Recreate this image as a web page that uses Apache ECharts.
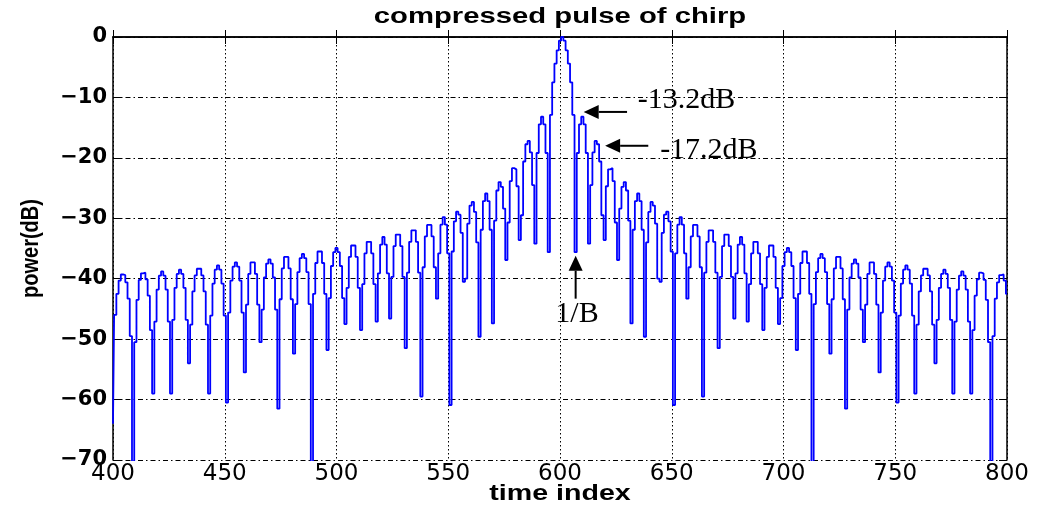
<!DOCTYPE html>
<html>
<head>
<meta charset="utf-8">
<title>compressed pulse of chirp</title>
<script src="https://cdn.jsdelivr.net/npm/echarts@6/dist/echarts.min.js"></script>
<style>
  html, body { margin: 0; padding: 0; background: #ffffff; }
  #chart { width: 1037px; height: 506px; }
</style>
</head>
<body>
<div id="chart"></div>
<script>
// Sample index of the first value in `power`
const firstIndex = 400;

// Matched-filter output power in dB, one value per time index (400 ... 800)
const power = [
  -64, -46, -42.5, -40.3, -39.3, -39.4, -40.6, -43.3, -49.5, -80,
  -50.5, -43.5, -40.2, -39.1, -39.0, -40.1, -42.8, -48.5, -59, -47.1,
  -41.8, -39.5, -38.8, -39.5, -41.8, -47.1, -59, -46.8, -41.5, -39.2,
  -38.5, -39.2, -41.5, -46.8, -54, -47.6, -42.1, -39.45, -38.35, -38.35,
  -39.45, -42.1, -47.6, -59, -46.1, -40.8, -38.5, -37.8, -38.5, -40.8,
  -46.1, -60.5, -45.6, -40.3, -38.0, -37.3, -38.0, -40.3, -45.6, -55.5,
  -44.3, -39.2, -37.3, -37.3, -39.2, -44.3, -50.5, -45.1, -39.8, -37.5,
  -36.8, -37.5, -39.8, -45.1, -61.5, -43.4, -38.3, -36.4, -36.4, -38.3,
  -43.4, -52.4, -44.2, -38.9, -36.6, -35.9, -36.6, -38.9, -44.2, -80,
  -42.5, -37.4, -35.5, -35.5, -37.4, -42.5, -51.8, -43.2, -37.9, -35.6,
  -34.9, -35.6, -37.9, -43.2, -47.5, -41.5, -36.4, -34.5, -34.5, -36.4,
  -41.5, -48.5, -40.9, -35.8, -33.9, -33.9, -35.8, -40.9, -47.1, -39.1,
  -34.35, -33.1, -34.35, -39.1, -46.6, -39.7, -34.6, -32.7, -32.7, -34.6,
  -39.7, -51.5, -39.0, -33.9, -32.0, -32.0, -33.9, -39.0, -59.5, -38.1,
  -33.0, -31.1, -31.1, -33.0, -38.1, -43.3, -35.8, -31.05, -29.8, -31.05,
  -35.8, -60.9, -35.5, -30.5, -28.9, -29.4, -32.4, -40.5, -40.0, -30.9,
  -27.9, -27.3, -28.95, -34.0, -49.6, -31.9, -27.15, -25.9, -27.15, -31.9,
  -47.4, -30.4, -25.4, -24.0, -24.8, -28.4, -36.9, -30.7, -23.85, -21.7,
  -21.9, -24.7, -33.6, -29.5, -20.6, -17.75, -17.2, -19.1, -24.5, -34.2,
  -19.2, -14.45, -13.2, -14.45, -19.2, -35.6, -12.9, -7.5, -4.4, -2.2,
  -0.6, 0, -0.6, -2.2, -4.4, -7.5, -12.9, -35.6, -19.2, -14.45,
  -13.2, -14.45, -19.2, -34.2, -24.5, -19.1, -17.2, -17.75, -20.6, -29.5,
  -33.6, -24.7, -21.9, -21.7, -23.85, -30.7, -36.9, -28.4, -24.8, -24.0,
  -25.4, -30.4, -47.4, -31.9, -27.15, -25.9, -27.15, -31.9, -49.6, -34.0,
  -28.95, -27.3, -27.9, -30.9, -40.0, -40.5, -32.4, -29.4, -28.9, -30.5,
  -35.5, -60.9, -35.8, -31.05, -29.8, -31.05, -35.8, -43.3, -38.1, -33.0,
  -31.1, -31.1, -33.0, -38.1, -59.5, -39.0, -33.9, -32.0, -32.0, -33.9,
  -39.0, -51.5, -39.7, -34.6, -32.7, -32.7, -34.6, -39.7, -46.6, -39.1,
  -34.35, -33.1, -34.35, -39.1, -47.1, -40.9, -35.8, -33.9, -33.9, -35.8,
  -40.9, -48.5, -41.5, -36.4, -34.5, -34.5, -36.4, -41.5, -47.5, -43.2,
  -37.9, -35.6, -34.9, -35.6, -37.9, -43.2, -51.8, -42.5, -37.4, -35.5,
  -35.5, -37.4, -42.5, -80, -44.2, -38.9, -36.6, -35.9, -36.6, -38.9,
  -44.2, -52.4, -43.4, -38.3, -36.4, -36.4, -38.3, -43.4, -61.5, -45.1,
  -39.8, -37.5, -36.8, -37.5, -39.8, -45.1, -50.5, -44.3, -39.2, -37.3,
  -37.3, -39.2, -44.3, -55.5, -45.6, -40.3, -38.0, -37.3, -38.0, -40.3,
  -45.6, -60.5, -46.1, -40.8, -38.5, -37.8, -38.5, -40.8, -46.1, -59,
  -47.6, -42.1, -39.45, -38.35, -38.35, -39.45, -42.1, -47.6, -54, -46.8,
  -41.5, -39.2, -38.5, -39.2, -41.5, -46.8, -59, -47.1, -41.8, -39.5,
  -38.8, -39.5, -41.8, -47.1, -59, -48.5, -42.8, -40.1, -39.0, -39.1,
  -40.2, -43.5, -50.5, -80, -49.5, -43.3, -40.6, -39.4, -39.3, -40.3,
  -42.5
];

// Axis ranges and steps
const xRange = [400, 800];
const xStep = 50;
const yRange = [-70, 0];
const yStep = 10;

// Sidelobe annotations: text anchor and arrow (tail -> tip) in data coordinates
const notes = [
  { text: '-13.2dB', at: [634.8, -10.4], align: 'left',   tail: [630.0, -12.4], tip: [610.6, -12.4] },
  { text: '-17.2dB', at: [644.8, -18.7], align: 'left',   tail: [639.5, -18.0], tip: [620.2, -18.0] },
  { text: '1/B',     at: [607.6, -45.9], align: 'center', tail: [607.0, -43.3], tip: [607.0, -36.2] }
];

const chart = echarts.init(document.getElementById('chart'), null, { renderer: 'canvas' });

const frame = { color: '#000', width: 1.5 };
const minusSign = v => (v < 0 ? '\u2212' + Math.abs(v) : String(v));

chart.setOption({
  animation: false,
  backgroundColor: '#ffffff',
  grid: { left: 113, right: 30, top: 37, bottom: 46, containLabel: false },
  xAxis: [
    {
      type: 'value', min: xRange[0], max: xRange[1], interval: xStep,
      position: 'bottom',
      axisLine: { show: true, lineStyle: frame },
      axisTick: { show: true, inside: true, length: 7, lineStyle: { color: '#000', width: 1 } },
      axisLabel: {
        show: true, margin: 3, color: '#000',
        fontFamily: 'DejaVu Sans', fontSize: 23
      },
      splitLine: { show: true, lineStyle: { color: '#000', width: 1, type: [1.5, 2.5] } }
    },
    {
      type: 'value', min: xRange[0], max: xRange[1], interval: xStep,
      position: 'top',
      axisLine: { show: true, lineStyle: frame },
      axisTick: { show: true, inside: true, length: 7, lineStyle: { color: '#000', width: 1 } },
      axisLabel: { show: false },
      splitLine: { show: false }
    }
  ],
  yAxis: [
    {
      type: 'value', min: yRange[0], max: yRange[1], interval: yStep,
      position: 'left',
      axisLine: { show: true, lineStyle: frame },
      axisTick: { show: true, inside: true, length: 8, lineStyle: { color: '#000', width: 1 } },
      axisLabel: {
        show: true, margin: 6, color: '#000',
        fontFamily: 'DejaVu Sans', fontWeight: 'bold', fontSize: 21,
        formatter: minusSign
      },
      splitLine: { show: true, lineStyle: { color: '#000', width: 1, type: [5, 3, 1.5, 3] } }
    },
    {
      type: 'value', min: yRange[0], max: yRange[1], interval: yStep,
      position: 'right',
      axisLine: { show: true, lineStyle: frame },
      axisTick: { show: true, inside: true, length: 8, lineStyle: { color: '#000', width: 1 } },
      axisLabel: { show: false },
      splitLine: { show: false }
    }
  ],
  series: [
    {
      type: 'line',
      xAxisIndex: 0,
      yAxisIndex: 0,
      data: power.map((v, i) => [firstIndex + i, v]),
      step: 'middle',
      showSymbol: false,
      symbol: 'none',
      clip: true,
      lineStyle: { color: '#0000ff', width: 1.8 },
      z: 3
    }
  ]
});

// Title, axis names and annotations drawn on top of the grid
const toPx = p => chart.convertToPixel({ gridIndex: 0 }, p);

function arrow(tail, tip) {
  const a = toPx(tail), b = toPx(tip);
  const dx = b[0] - a[0], dy = b[1] - a[1];
  const len = Math.hypot(dx, dy);
  const ux = dx / len, uy = dy / len;
  const headLen = 15, half = 7;
  const bx = b[0] - ux * headLen, by = b[1] - uy * headLen;
  return [
    { type: 'line', z: 10, shape: { x1: a[0], y1: a[1], x2: bx, y2: by },
      style: { stroke: '#000', lineWidth: 2 } },
    { type: 'polygon', z: 10,
      shape: { points: [[b[0], b[1]], [bx - uy * half, by + ux * half], [bx + uy * half, by - ux * half]] },
      style: { fill: '#000' } }
  ];
}

const plotCenterX = toPx([(xRange[0] + xRange[1]) / 2, 0])[0];
const plotCenterY = (toPx([xRange[0], yRange[0]])[1] + toPx([xRange[0], yRange[1]])[1]) / 2;

const graphics = [
  { type: 'text', z: 10, x: plotCenterX, y: 17, scaleX: 1.33,
    style: { text: 'compressed pulse of chirp', fill: '#000',
      font: 'bold 22px "Liberation Sans", Arial, sans-serif',
      textAlign: 'center', align: 'center', textVerticalAlign: 'middle', verticalAlign: 'middle' } },
  { type: 'text', z: 10, x: plotCenterX, y: 494, scaleX: 1.3,
    style: { text: 'time index', fill: '#000',
      font: 'bold 22px "Liberation Sans", Arial, sans-serif',
      textAlign: 'center', align: 'center', textVerticalAlign: 'middle', verticalAlign: 'middle' } },
  { type: 'text', z: 10, x: 31, y: plotCenterY, rotation: Math.PI / 2, scaleY: 1.2,
    style: { text: 'power(dB)', fill: '#000',
      font: 'bold 20px "Liberation Sans", Arial, sans-serif',
      textAlign: 'center', align: 'center', textVerticalAlign: 'middle', verticalAlign: 'middle' } }
];

notes.forEach(n => {
  const p = toPx(n.at);
  graphics.push({
    type: 'text', z: 10, x: p[0], y: p[1],
    style: { text: n.text, fill: '#000',
      font: '30px "Liberation Serif", "Times New Roman", serif',
      textAlign: n.align, align: n.align, textVerticalAlign: 'middle', verticalAlign: 'middle' }
  });
  graphics.push(...arrow(n.tail, n.tip));
});

chart.setOption({ graphic: graphics });
</script>
</body>
</html>
